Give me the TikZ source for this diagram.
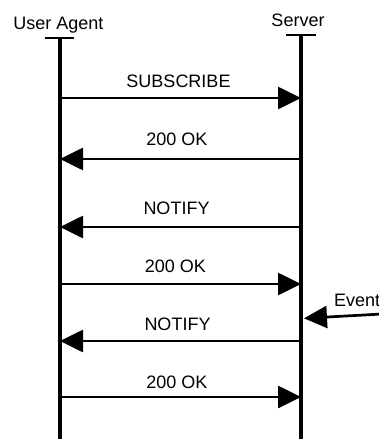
\documentclass[tikz,border=0pt]{standalone}
\usepackage{fontspec}
\setmainfont{Liberation Sans}
\usetikzlibrary{arrows.meta}
\tikzset{
  lifeline/.style={line width=3.2pt},
  tick/.style={line width=2.8pt},
  msg/.style={line width=2.7pt,-{Triangle[length=23pt,width=22pt]}},
  lbl/.style={font=\fontsize{18pt}{20pt}\selectfont,anchor=base,inner sep=0pt},
}
\begin{document}
\begin{tikzpicture}[x=1pt,y=-1pt]
\useasboundingbox (0,0) rectangle (379,439);
% actors
\node[lbl] (ua) at (58.5,29.5) {User Agent};
\node[lbl] (srv) at (298,27) {Server};
% lifeline coordinates
\coordinate (uatop) at (60,38);
\coordinate (uabot) at (60,439);
\coordinate (svtop) at (301,35);
\coordinate (svbot) at (301,439);
\coordinate (uatl) at (44.5,38);
\coordinate (uatr) at (74,38);
\coordinate (svtl) at (286,35);
\coordinate (svtr) at (315.5,35);
\draw[tick] (uatl) -- (uatr);
\draw[tick] (svtl) -- (svtr);
\draw[lifeline] (uatop) -- (uabot);
\draw[lifeline] (svtop) -- (svbot);
% message points
\foreach \n/\y in {1/98,2/159,3/227,4/284,5/341,6/397}{
  \coordinate (u\n) at (60,\y);
  \coordinate (s\n) at (301,\y);
}
\draw[msg] (u1) -- (s1);
\draw[msg] (s2) -- (u2);
\draw[msg] (s3) -- (u3);
\draw[msg] (u4) -- (s4);
\draw[msg] (s5) -- (u5);
\draw[msg] (u6) -- (s6);
\node[lbl] (l1) at (178.5,87) {SUBSCRIBE};
\node[lbl] (l2) at (177,145) {200 OK};
\node[lbl] (l3) at (176.5,214) {NOTIFY};
\node[lbl] (l4) at (175.5,272) {200 OK};
\node[lbl] (l5) at (177.5,330.5) {NOTIFY};
\node[lbl] (l6) at (177,388) {200 OK};
% event
\coordinate (evs) at (382,314);
\coordinate (eve) at (304,318.3);
\draw[msg] (evs) -- (eve);
\node[lbl,anchor=base west] (ev) at (334,306) {Event};
\end{tikzpicture}
\end{document}
